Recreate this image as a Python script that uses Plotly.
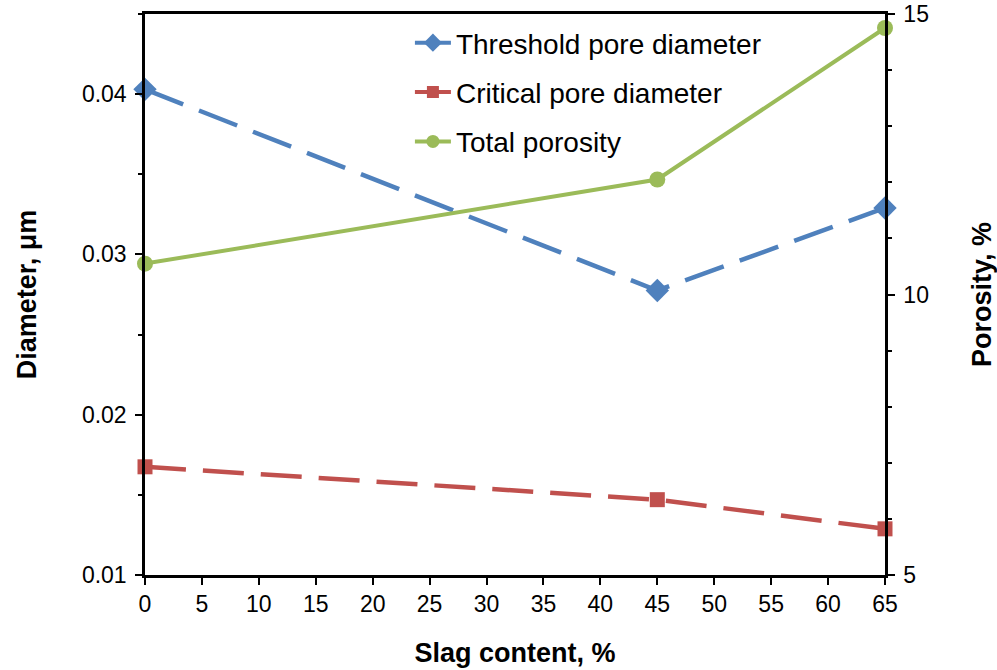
import plotly.graph_objects as go

slag = [0, 45, 65]
threshold = [0.0403, 0.02775, 0.0329]
critical = [0.01675, 0.0147, 0.01288]
porosity = [10.55, 12.05, 14.75]

BLUE = "#4F81BD"
RED = "#C0504D"
GREEN = "#9BBB59"
FONT = "Liberation Sans, Arial, sans-serif"

fig = go.Figure()

fig.add_trace(go.Scatter(x=slag, y=threshold, mode="lines+markers",
                         line=dict(color=BLUE, width=4.5, dash="41px,17px"),
                         marker=dict(symbol="diamond", size=18, color=BLUE),
                         cliponaxis=False, showlegend=False))
fig.add_trace(go.Scatter(x=slag, y=critical, mode="lines+markers",
                         line=dict(color=RED, width=4.5, dash="41px,17px"),
                         marker=dict(symbol="square", size=15, color=RED),
                         cliponaxis=False, showlegend=False))
fig.add_trace(go.Scatter(x=slag, y=porosity, mode="lines+markers", yaxis="y2",
                         line=dict(color=GREEN, width=4),
                         marker=dict(symbol="circle", size=16, color=GREEN),
                         cliponaxis=False, showlegend=False))

# legend entries (solid lines as in reference)
for name, col, sym, sz, grp in [("Threshold pore diameter", BLUE, "diamond", 14, "a"),
                                ("Critical pore diameter", RED, "square", 12, "b"),
                                ("Total porosity", GREEN, "circle", 13, "c")]:
    fig.add_trace(go.Scatter(x=[None], y=[None], mode="lines+markers", name=name,
                             legendgroup=grp,
                             line=dict(color=col, width=4),
                             marker=dict(symbol=sym, size=sz, color=col)))

axis_common = dict(showline=True, linecolor="black", linewidth=2.5, showgrid=False,
                   zeroline=False, ticks="outside", tickcolor="black", tickwidth=2,
                   ticklen=7, automargin=False,
                   tickfont=dict(family=FONT, size=23, color="black"))

fig.update_layout(
    width=997, height=670,
    margin=dict(l=145, r=112, t=14, b=95),
    paper_bgcolor="white", plot_bgcolor="white",
    font=dict(family=FONT, color="black"),
    xaxis=dict(range=[0, 65], dtick=5, tick0=0, mirror=True,
               title=dict(text="<b>Slag content, %</b>", font=dict(family=FONT, size=27), standoff=27),
               **axis_common),
    yaxis=dict(range=[0.01, 0.045], tickvals=[0.01, 0.02, 0.03, 0.04],
               ticktext=["0.01", "0.02", "0.03", "0.04"], ticklabelstandoff=4,
               minor=dict(tickvals=[0.015, 0.025, 0.035, 0.045], ticks="outside", ticklen=4,
                          tickwidth=2, tickcolor="black"),
               title=dict(text="<b>Diameter, μm</b>", font=dict(family=FONT, size=27), standoff=38),
               **axis_common),
    yaxis2=dict(range=[5, 15], dtick=5, tick0=5, overlaying="y", side="right",
                ticklabelstandoff=4,
                minor=dict(dtick=1, ticks="outside", ticklen=4, tickwidth=2, tickcolor="black"),
                title=dict(text="<b>Porosity, %</b>", font=dict(family=FONT, size=27), standoff=48),
                **axis_common),
    legend=dict(x=0.358, y=0.993, xanchor="left", yanchor="top",
                font=dict(family=FONT, size=28, color="black"),
                bgcolor="rgba(0,0,0,0)", itemwidth=36, tracegroupgap=10,
                traceorder="grouped"),
)

fig.write_html("out.html")
